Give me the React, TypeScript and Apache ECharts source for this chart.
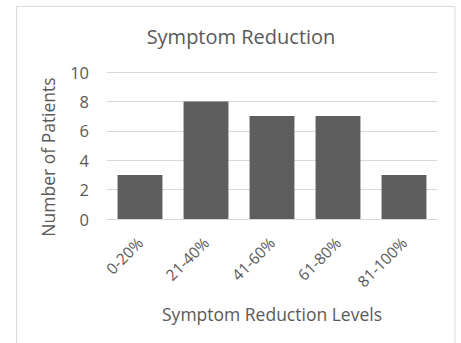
import React, { useEffect, useRef } from "react";
import * as echarts from "echarts";

const categories = ["0-20%", "21-40%", "41-60%", "61-80%", "81-100%"];
const patients = [3, 8, 7, 7, 3];
const yTicks = { min: 0, max: 10, interval: 2 };

const FONT = "'Open Sans', sans-serif";
const TEXT = "#595959";

export default function App() {
  const ref = useRef<HTMLDivElement>(null);
  useEffect(() => {
    if (!ref.current) return;
    const chart = echarts.init(ref.current, null, { renderer: "svg" });
    chart.setOption({
      animation: false,
      backgroundColor: "#ffffff",
      textStyle: { fontFamily: FONT },
      title: {
        text: "Symptom Reduction",
        left: 236,
        top: 21,
        textAlign: "center",
        textStyle: { fontFamily: FONT, fontSize: 20, fontWeight: "normal", color: TEXT },
      },
      graphic: [
        {
          type: "rect",
          shape: { x: 16.5, y: 6.5, width: 438.5, height: 350 },
          style: { fill: "none", stroke: "#d9d9d9", lineWidth: 1 },
          silent: true,
        },
        {
          type: "text",
          x: 48,
          y: 157,
          rotation: Math.PI / 2,
          style: {
            text: "Number of Patients",
            fill: TEXT,
            font: `17.5px ${FONT}`,
            align: "center",
            verticalAlign: "middle",
          },
          silent: true,
        },
      ],
      grid: { left: 107, right: 24, top: 72, bottom: 124 },
      xAxis: {
        type: "category",
        data: categories,
        axisLine: { lineStyle: { color: "#d9d9d9" } },
        axisTick: { show: false },
        axisLabel: { rotate: 45, color: TEXT, fontSize: 15.5, fontFamily: FONT, margin: 21, interval: 0 },
        name: "Symptom Reduction Levels",
        nameLocation: "middle",
        nameGap: 86,
        nameTextStyle: { color: TEXT, fontSize: 17.5, fontFamily: FONT },
      },
      yAxis: {
        type: "value",
        min: yTicks.min,
        max: yTicks.max,
        interval: yTicks.interval,
        axisLine: { show: false },
        axisTick: { show: false },
        splitLine: { lineStyle: { color: "#d9d9d9" } },
        axisLabel: { color: TEXT, fontSize: 16.5, fontFamily: FONT, margin: 18 },
      },
      series: [
        {
          type: "bar",
          data: patients,
          barWidth: "68%",
          itemStyle: { color: "#5e5e5e" },
        },
      ],
    });
    return () => chart.dispose();
  }, []);
  return (
    <div
      ref={ref}
      style={{ position: "fixed", left: 0, top: 0, width: 461, height: 343 }}
    />
  );
}
